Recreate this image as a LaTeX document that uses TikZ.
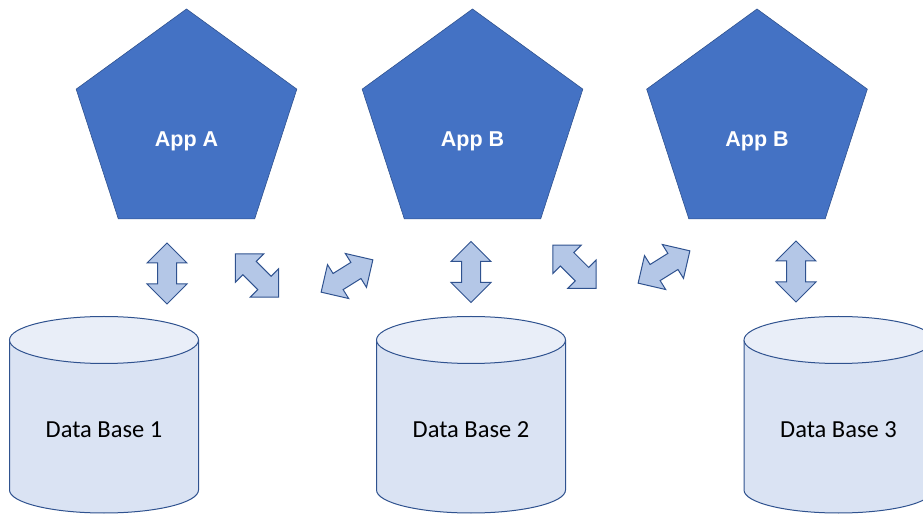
\documentclass[tikz,border=0pt]{standalone}
\usepackage{fontspec}
\setmainfont{Carlito}
\newfontfamily\appfont{Liberation Sans}
\usetikzlibrary{shapes.geometric}
\definecolor{appblue}{HTML}{4472C4}
\definecolor{edgeblue}{HTML}{2F528F}
\definecolor{arrowfill}{HTML}{B4C7E7}
\definecolor{dbbody}{HTML}{DAE3F3}
\definecolor{dbtop}{HTML}{E9EEF8}
\tikzset{
  appnode/.style={regular polygon, regular polygon sides=5, minimum size=232pt,
    inner sep=0pt, outer sep=0pt, fill=appblue, draw=edgeblue, line width=0.6pt},
  applabel/.style={text=white, font=\appfont\bfseries\fontsize{21.5}{25}\selectfont, anchor=base},
  dblabel/.style={font=\fontsize{24.5}{28}\selectfont, anchor=base, inner sep=0pt},
  arrowstyle/.style={fill=arrowfill, draw=edgeblue, line width=1pt, line join=miter},
  dbline/.style={draw=edgeblue, line width=1pt},
  dblarrow/.pic={
    \draw[arrowstyle] (0,30.5) -- (20,10.5) -- (9.5,10.5) -- (9.5,-10.5) -- (20,-10.5)
      -- (0,-30.5) -- (-20,-10.5) -- (-9.5,-10.5) -- (-9.5,10.5) -- (-20,10.5) -- cycle;
  },
  dbcyl/.pic={
    % body
    \path[fill=dbbody, dbline] (-94.5,150) -- (-94.5,0) arc[start angle=180, end angle=360, x radius=94.5, y radius=23]
      -- (94.5,150);
    % top ellipse
    \path[fill=dbtop, dbline] (0,150) ellipse[x radius=94.5, y radius=23.5];
  }
}
\begin{document}
\begin{tikzpicture}[x=1pt,y=1pt]
\useasboundingbox (0,0) rectangle (923,514);
\clip (0,0) rectangle (923,514);
% apps
\node[appnode] (appA) at (186.5,389) {};
\node[appnode] (appB) at (472.5,389) {};
\node[appnode] (appC) at (757,389) {};
\node[applabel] (tA) at (186.5,367) {App A};
\node[applabel] (tB) at (472.5,367) {App B};
\node[applabel] (tC) at (757,367) {App B};
% databases
\pic (db1) at (104,24) {dbcyl};
\pic (db2) at (471,24) {dbcyl};
\pic (db3) at (838.5,24) {dbcyl};
\node[dblabel] (d1) at (104,77) {Data Base 1};
\node[dblabel] (d2) at (471,77) {Data Base 2};
\node[dblabel] (d3) at (838.5,77) {Data Base 3};
% arrows
\pic (v1) at (167,240.5) {dblarrow};
\pic[rotate=45] (x1) at (257,238.5) {dblarrow};
\pic[rotate=-58] (x2) at (347,238) {dblarrow};
\pic (v2) at (471,242) {dblarrow};
\pic[rotate=45] (x3) at (574.5,247.3) {dblarrow};
\pic[rotate=-58] (x4) at (664,247) {dblarrow};
\pic (v3) at (796,242.5) {dblarrow};
\end{tikzpicture}
\end{document}
